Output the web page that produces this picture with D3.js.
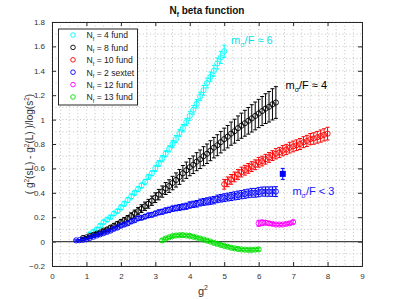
<!DOCTYPE html>
<html>
<head>
<meta charset="utf-8">
<script src="https://cdn.jsdelivr.net/npm/d3@7"></script>
<style>
  body { margin: 0; background: #fff; }
  svg { font-family: "Liberation Sans", Arial, sans-serif; display: block; }
</style>
</head>
<body>
<div id="chart"></div>
<script>
// ---- data: [g2, value, error] ----
const nf4 = [[1.1,0.06,0.015],[1.2,0.08,0.015],[1.3,0.10,0.015],[1.4,0.13,0.015],[1.5,0.16,0.015],[1.6,0.18,0.015],[1.7,0.20,0.015],[1.8,0.23,0.015],[1.9,0.25,0.015],[2.0,0.28,0.02],
  [2.1,0.31,0.02],[2.2,0.34,0.02],[2.3,0.37,0.02],[2.4,0.40,0.02],[2.5,0.43,0.02],[2.6,0.46,0.02],[2.7,0.49,0.02],[2.8,0.53,0.02],[2.9,0.56,0.02],[3.0,0.60,0.025],
  [3.1,0.64,0.025],[3.2,0.68,0.025],[3.3,0.72,0.025],[3.4,0.76,0.025],[3.5,0.80,0.03],[3.6,0.84,0.03],[3.7,0.89,0.03],[3.8,0.93,0.03],[3.9,0.98,0.03],[4.0,1.03,0.035],
  [4.1,1.08,0.035],[4.2,1.13,0.035],[4.3,1.19,0.035],[4.4,1.24,0.04],[4.5,1.30,0.04],[4.6,1.35,0.04],[4.7,1.40,0.045],[4.8,1.46,0.045],[4.9,1.51,0.05],[5.0,1.56,0.05]];

const nf8 = [[0.9,0.03,0.005],[1.0,0.035,0.006],[1.1,0.045,0.007],[1.2,0.055,0.008],[1.3,0.065,0.009],[1.4,0.075,0.01],[1.5,0.09,0.011],[1.6,0.10,0.012],[1.7,0.115,0.014],[1.8,0.13,0.016],
  [1.9,0.145,0.018],[2.0,0.16,0.02],[2.1,0.175,0.022],[2.2,0.19,0.024],[2.3,0.21,0.026],[2.4,0.23,0.028],[2.5,0.25,0.03],[2.6,0.27,0.032],[2.7,0.29,0.034],[2.8,0.31,0.036],
  [2.9,0.335,0.038],[3.0,0.36,0.04],[3.1,0.385,0.043],[3.2,0.41,0.046],[3.3,0.435,0.049],[3.4,0.455,0.052],[3.5,0.48,0.055],[3.6,0.505,0.058],[3.7,0.53,0.061],[3.8,0.56,0.064],
  [3.9,0.585,0.067],[4.0,0.61,0.07],[4.1,0.63,0.072],[4.2,0.655,0.074],[4.3,0.675,0.076],[4.4,0.70,0.078],[4.5,0.72,0.08],[4.6,0.745,0.082],[4.7,0.77,0.084],[4.8,0.79,0.086],
  [4.9,0.815,0.088],[5.0,0.84,0.09],[5.1,0.86,0.092],[5.2,0.885,0.095],[5.3,0.905,0.098],[5.4,0.93,0.10],[5.5,0.95,0.103],[5.6,0.97,0.106],[5.7,0.99,0.109],[5.8,1.01,0.112],
  [5.9,1.03,0.114],[6.0,1.05,0.116],[6.1,1.07,0.119],[6.2,1.09,0.122],[6.3,1.105,0.125],[6.4,1.125,0.128],[6.5,1.14,0.13]];

const nf10 = [[5.0,0.47,0.04],[5.1,0.49,0.04],[5.2,0.51,0.04],[5.3,0.53,0.04],[5.4,0.55,0.04],[5.5,0.57,0.04],[5.6,0.585,0.04],[5.7,0.60,0.04],[5.8,0.615,0.04],[5.9,0.63,0.04],
  [6.0,0.65,0.04],[6.1,0.66,0.04],[6.2,0.675,0.04],[6.3,0.69,0.04],[6.4,0.705,0.04],[6.5,0.72,0.042],[6.6,0.73,0.042],[6.7,0.745,0.042],[6.8,0.755,0.042],[6.9,0.77,0.044],
  [7.0,0.78,0.044],[7.1,0.79,0.044],[7.2,0.80,0.045],[7.3,0.815,0.045],[7.4,0.825,0.046],[7.5,0.84,0.046],[7.6,0.845,0.047],[7.7,0.855,0.048],[7.8,0.865,0.05],[7.9,0.875,0.05],[8.0,0.885,0.052]];

const sextet = [[0.7,0.01,0.005],[0.8,0.012,0.005],[0.9,0.015,0.006],[1.0,0.02,0.006],[1.1,0.03,0.007],[1.2,0.04,0.007],[1.3,0.05,0.008],[1.4,0.06,0.008],[1.5,0.07,0.009],[1.6,0.08,0.01],
  [1.7,0.09,0.01],[1.8,0.105,0.011],[1.9,0.115,0.012],[2.0,0.13,0.012],[2.1,0.14,0.013],[2.2,0.15,0.014],[2.3,0.165,0.014],[2.4,0.175,0.015],[2.5,0.19,0.016],[2.6,0.195,0.016],
  [2.7,0.205,0.017],[2.8,0.215,0.018],[2.9,0.22,0.018],[3.0,0.23,0.019],[3.1,0.24,0.02],[3.2,0.245,0.02],[3.3,0.255,0.021],[3.4,0.26,0.022],[3.5,0.27,0.022],[3.6,0.275,0.023],
  [3.7,0.28,0.024],[3.8,0.285,0.024],[3.9,0.29,0.025],[4.0,0.30,0.026],[4.1,0.305,0.026],[4.2,0.31,0.027],[4.3,0.32,0.028],[4.4,0.325,0.028],[4.5,0.33,0.029],[4.6,0.335,0.03],
  [4.7,0.34,0.03],[4.8,0.35,0.031],[4.9,0.355,0.031],[5.0,0.36,0.032],[5.1,0.365,0.032],[5.2,0.37,0.033],[5.3,0.375,0.033],[5.4,0.38,0.034],[5.5,0.385,0.034],[5.6,0.39,0.035],
  [5.7,0.395,0.035],[5.8,0.40,0.036],[5.9,0.40,0.036],[6.0,0.405,0.037],[6.1,0.41,0.037],[6.2,0.41,0.038],[6.3,0.41,0.038],[6.4,0.41,0.039],[6.5,0.41,0.04]];

const sextetPoint = [[6.7,0.555,0.045]];

const nf12 = [[6.0,0.15,0.025],[6.1,0.155,0.022],[6.2,0.155,0.018],[6.3,0.15,0.015],[6.4,0.145,0.012],[6.5,0.14,0.01],[6.6,0.14,0.01],[6.7,0.14,0.01],[6.8,0.145,0.01],[6.9,0.15,0.012],[7.0,0.16,0.015]];

const nf13 = [[3.2,0.01,0.012],[3.3,0.025,0.01],[3.4,0.035,0.01],[3.5,0.045,0.01],[3.6,0.05,0.01],[3.7,0.052,0.01],[3.8,0.053,0.01],[3.9,0.05,0.01],[4.0,0.047,0.01],[4.1,0.04,0.01],
  [4.2,0.033,0.01],[4.3,0.025,0.01],[4.4,0.017,0.01],[4.5,0.008,0.01],[4.6,0.0,0.01],[4.7,-0.01,0.01],[4.8,-0.018,0.01],[4.9,-0.027,0.01],[5.0,-0.035,0.01],[5.1,-0.042,0.01],
  [5.2,-0.05,0.01],[5.3,-0.055,0.01],[5.4,-0.06,0.01],[5.5,-0.064,0.01],[5.6,-0.066,0.01],[5.7,-0.068,0.01],[5.8,-0.068,0.01],[5.9,-0.066,0.01],[6.0,-0.064,0.012]];

const legendNames = ['4 fund', '8 fund', '10 fund', '2 sextet', '12 fund', '13 fund'];
const seriesColors = ['#00ffff', '#000000', '#ff0000', '#0000ff', '#ff00ff', '#00e000'];
const seriesData = [nf4, nf8, nf10, sextet, nf12, nf13];
const xTicks = [0, 1, 2, 3, 4, 5, 6, 7, 8, 9];
const yTicks = [-0.2, 0, 0.2, 0.4, 0.6, 0.8, 1, 1.2, 1.4, 1.6, 1.8];

// ---- layout ----
const W = 399, H = 299;
const M = { left: 52, right: 37, top: 22, bottom: 33 };
const iw = W - M.left - M.right, ih = H - M.top - M.bottom;

const x = d3.scaleLinear().domain([0, 9]).range([0, iw]);
const y = d3.scaleLinear().domain([-0.2, 1.8]).range([ih, 0]);

const svg = d3.select('#chart').append('svg').attr('width', W).attr('height', H);
const g = svg.append('g').attr('transform', `translate(${M.left},${M.top})`);

// grid (major + minor, dotted)
const gridColor = '#c4c4c4';
const xMinor = d3.range(0, 9.001, 0.25);
const yMinor = d3.range(-0.2, 1.8001, 0.1);
g.append('g').selectAll('line').data(xMinor).join('line')
  .attr('x1', d => x(d)).attr('x2', d => x(d)).attr('y1', 0).attr('y2', ih)
  .attr('stroke', gridColor).attr('stroke-width', 1).attr('stroke-dasharray', '1,2.5');
g.append('g').selectAll('line').data(yMinor).join('line')
  .attr('x1', 0).attr('x2', iw).attr('y1', d => y(d)).attr('y2', d => y(d))
  .attr('stroke', gridColor).attr('stroke-width', 1).attr('stroke-dasharray', '1,2.5');

// axes (ticks inward, box)
const axisColor = '#262626';
const axB = g.append('g').attr('transform', `translate(0,${ih})`)
  .call(d3.axisBottom(x).tickValues(xTicks).tickSize(-4).tickPadding(7).tickFormat(d3.format('d')));
const axT = g.append('g').call(d3.axisTop(x).tickValues(xTicks).tickSize(-4).tickFormat(''));
const axL = g.append('g')
  .call(d3.axisLeft(y).tickValues(yTicks).tickSize(-4).tickPadding(7).tickFormat(d => d3.format('~g')(+d.toFixed(1))));
const axR = g.append('g').attr('transform', `translate(${iw},0)`)
  .call(d3.axisRight(y).tickValues(yTicks).tickSize(-4).tickFormat(''));
[axB, axT, axL, axR].forEach(a => {
  a.select('.domain').attr('stroke', axisColor);
  a.selectAll('.tick line').attr('stroke', axisColor);
  a.selectAll('text').attr('fill', '#333').attr('font-size', 8).attr('font-family', '"Liberation Sans", Arial, sans-serif');
});

// zero line
g.append('line').attr('x1', 0).attr('x2', iw).attr('y1', y(0)).attr('y2', y(0))
  .attr('stroke', '#444').attr('stroke-width', 1.2);

// series with error bars
const cap = 2;
function drawSeries(data, color, filled) {
  const s = g.append('g');
  s.selectAll('path.err').data(data).join('path').attr('class', 'err')
    .attr('d', d => {
      const px = x(d[0]), y1 = y(d[1] - d[2]), y2 = y(d[1] + d[2]);
      return `M${px},${y1}V${y2}M${px - cap},${y1}H${px + cap}M${px - cap},${y2}H${px + cap}`;
    })
    .attr('stroke', color).attr('stroke-width', 1).attr('fill', 'none');
  if (filled) {
    s.selectAll('rect').data(data).join('rect')
      .attr('x', d => x(d[0]) - 3).attr('y', d => y(d[1]) - 3).attr('width', 6).attr('height', 6)
      .attr('fill', color);
  } else {
    s.selectAll('circle').data(data).join('circle')
      .attr('cx', d => x(d[0])).attr('cy', d => y(d[1])).attr('r', 2.6)
      .attr('fill', 'none').attr('stroke', color).attr('stroke-width', 0.9);
  }
}
seriesData.forEach((d, i) => drawSeries(d, seriesColors[i], false));
drawSeries(sextetPoint, '#0000ff', true);

// annotations
function mLabel(px, py, rest, color) {
  const t = g.append('text').attr('x', px).attr('y', py).attr('fill', color).attr('font-size', 11);
  t.append('tspan').text('m');
  t.append('tspan').text('σ').attr('font-size', 7).attr('dy', 3);
  t.append('tspan').text('/F ' + rest).attr('dy', -3);
}
mLabel(x(5.2), y(1.62), '≈ 6', '#00e5ee');
mLabel(x(6.78), y(1.25), '≈ 4', '#000');
mLabel(x(6.98), y(0.38), '< 3', '#2020ff');

// legend
const lg = svg.append('g').attr('transform', 'translate(58.5,29)');
lg.append('rect').attr('width', 79).attr('height', 76).attr('fill', '#fff').attr('stroke', '#262626').attr('stroke-width', 1);
legendNames.forEach((name, i) => {
  const yy = 6 + i * 12.4;
  lg.append('circle').attr('cx', 14.5).attr('cy', yy).attr('r', 2.3)
    .attr('fill', 'none').attr('stroke', seriesColors[i]).attr('stroke-width', 0.9);
  const t = lg.append('text').attr('x', 28).attr('y', yy + 3.3).attr('font-size', 8.6).attr('fill', '#222');
  t.append('tspan').text('N');
  t.append('tspan').text('f').attr('font-size', 5.5).attr('dy', 2.5);
  t.append('tspan').text(' = ' + name).attr('dy', -2.5);
});

// title
const title = svg.append('text').attr('x', M.left + iw / 2).attr('y', 14).attr('text-anchor', 'middle')
  .attr('font-size', 10).attr('font-weight', 'bold').attr('fill', '#111');
title.append('tspan').text('N');
title.append('tspan').text('f').attr('font-size', 6.5).attr('dy', 3);
title.append('tspan').text(' beta function').attr('dy', -3);

// x label
const xl = svg.append('text').attr('x', M.left + iw / 2 - 4).attr('y', 295).attr('text-anchor', 'middle')
  .attr('font-size', 11).attr('fill', '#333');
xl.append('tspan').text('g');
xl.append('tspan').text('2').attr('font-size', 7).attr('dy', -5);

// y label
const yl = svg.append('text').attr('transform', `translate(33,${M.top + ih / 2}) rotate(-90)`)
  .attr('text-anchor', 'middle').attr('font-size', 10).attr('fill', '#333');
yl.append('tspan').text('( g');
yl.append('tspan').text('2').attr('font-size', 6.5).attr('dy', -4);
yl.append('tspan').text('(sL) - g').attr('dy', 4);
yl.append('tspan').text('2').attr('font-size', 6.5).attr('dy', -4);
yl.append('tspan').text('(L) )/log(s').attr('dy', 4);
yl.append('tspan').text('2').attr('font-size', 6.5).attr('dy', -4);
yl.append('tspan').text(')').attr('dy', 4);
</script>
</body>
</html>
